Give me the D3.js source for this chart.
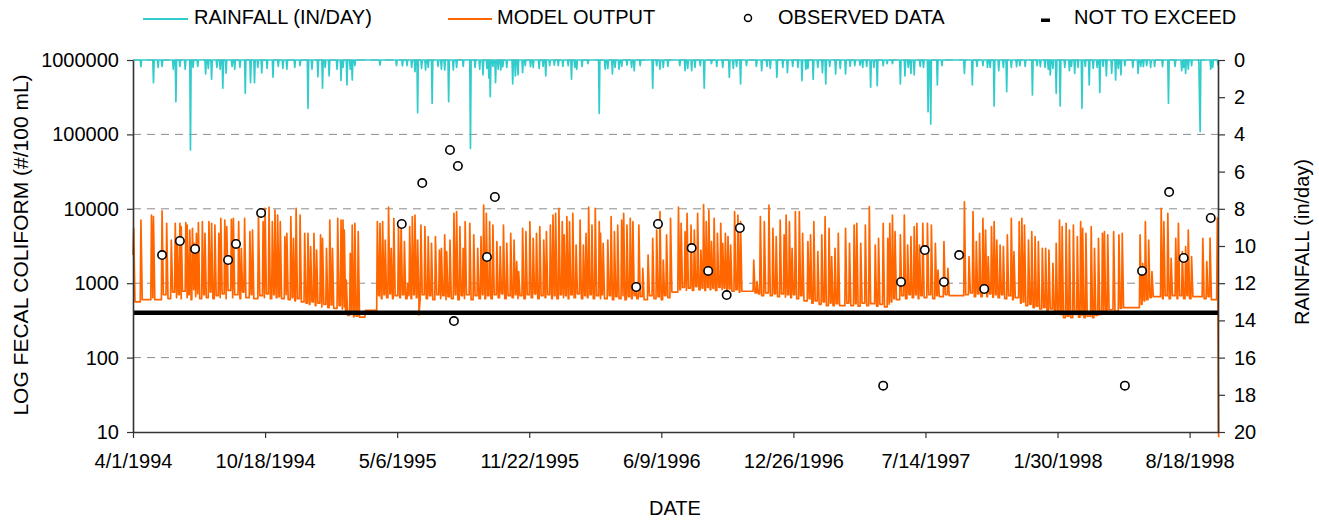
<!DOCTYPE html>
<html>
<head>
<meta charset="utf-8">
<script src="https://cdn.jsdelivr.net/npm/d3@7"></script>
<style>
  body { margin: 0; background: #fff; }
  text { font-family: "Liberation Sans", Arial, sans-serif; fill: #000; }
</style>
</head>
<body>
<svg id="chart" width="1319" height="522"></svg>
<script>
// ---------------- DATA ----------------
const startDate = "1994-04-01";
const endDate = "1998-09-30";
const xTickDays = [0, 200, 400, 600, 800, 1000, 1200, 1400, 1600]; // days since 4/1/1994
const leftTicks = [10, 100, 1000, 10000, 100000, 1000000];
const rightTicks = [0, 2, 4, 6, 8, 10, 12, 14, 16, 18, 20];
const legendLabels = ["RAINFALL (IN/DAY)", "MODEL OUTPUT", "OBSERVED DATA", "NOT TO EXCEED"];
const notToExceed = 400;

// Model output (#/100 mL): start value then spikes [day, peak value, value the curve falls back to]
const modelStartValue = 2400;
const modelSpikes = [
  [1,5500,560],[12,7070,600],[28,8260,640],[31,7840,600],[44,9400,700],[51,6380,620],[58,3810,760],
  [64,6380,640],[67,3620,700],[71,6380,620],[73,5750,780],[80,6500,640],[82,6060,700],[86,5190,600],
  [90,5470,820],[93,3440,660],[96,4680,720],[99,6500,620],[105,6720,700],[109,4680,640],[115,6720,760],
  [119,6380,620],[124,6060,680],[130,4680,640],[133,7450,720],[139,7070,620],[142,5750,800],[149,7200,640],
  [152,7450,700],[160,6720,620],[164,2940,760],[169,7450,640],[177,4930,700],[181,5190,620],[190,8700,680],
  [197,6720,640],[200,10150,720],[206,10500,620],[211,6720,700],[215,9630,640],[219,8260,660],[223,6720,620],
  [230,4220,700],[233,4680,600],[239,7840,640],[243,4010,580],[247,10150,620],[253,8260,560],[260,4680,540],
  [265,4680,520],[269,3100,560],[274,4680,500],[278,2790,540],[284,4450,480],[287,4010,520],[293,2940,470],
  [298,7070,510],[302,2940,460],[310,7450,500],[315,7070,450],[318,7070,480],[320,5190,400],[323,1100,370],
  [329,2520,380],[332,6060,355],[336,6380,360],[341,4930,350],[352,430,430],
  [370,6720,680],[374,6380,620],[378,6720,700],[382,3810,640],[387,10500,720],[391,2940,620],[395,7450,680],
  [402,5750,640],[406,6720,700],[411,3620,620],[416,996,680],[419,5750,620],[423,7840,700],[427,8260,640],
  [431,3810,650],[433,374,640],[436,6060,700],[442,5750,620],[447,4220,680],[452,3440,600],[458,4220,700],
  [464,2790,620],[467,2940,680],[472,4450,600],[475,2650,660],[480,3810,620],[486,8700,700],[490,9160,600],
  [495,5750,680],[500,2940,620],[503,6720,700],[510,6380,600],[516,4450,680],[522,2940,620],[527,4220,700],
  [531,11200,620],[535,8700,680],[540,6720,620],[545,6060,700],[551,3620,640],[556,3100,720],[561,6060,620],
  [566,3440,680],[572,4680,640],[577,3810,700],[581,1950,620],[584,1430,680],[590,5470,620],[595,4930,700],
  [601,6720,640],[606,4010,720],[611,4680,620],[616,5750,680],[622,3810,640],[626,4930,700],[632,6060,620],
  [636,8260,680],[640,8700,620],[645,10150,700],[650,6720,640],[653,4450,680],[657,7840,620],[661,6720,700],
  [666,8700,640],[671,3260,720],[677,7070,620],[682,3260,680],[686,4680,640],[690,10500,700],[695,6060,620],
  [700,10150,680],[706,6720,620],[708,4680,700],[712,3440,620],[719,3810,680],[724,7840,600],[729,4930,660],
  [734,6060,620],[740,7070,680],[743,8700,600],[748,6060,660],[753,7450,620],[757,6720,680],[761,899,620],
  [766,6060,660],[772,1580,600],[780,2390,680],[787,4010,620],[793,5190,660],[798,9160,600],[803,2050,680],
  [808,4450,640],[814,7450,760],
  [826,10500,820],[830,6380,880],[836,4930,800],[839,8700,860],[845,6060,800],[850,5190,900],[855,8700,820],
  [860,2790,860],[864,11400,800],[868,6720,880],[872,9630,820],[876,3620,860],[880,7450,800],[885,4680,880],
  [890,6380,820],[893,3440,860],[897,4680,800],[901,4220,840],[905,3260,780],[911,9160,820],[916,8260,760],
  [920,6720,780],[940,2050,740],[945,1050,720],
  [950,7840,680],[956,6720,740],[963,11200,680],[969,5470,720],[974,4220,660],[980,7070,720],[986,4450,650],
  [989,8260,700],[994,6720,640],[998,2940,700],[1003,9160,620],[1009,9160,680],[1014,4680,580],[1022,3620,620],
  [1026,4450,540],[1031,6720,580],[1037,2650,520],[1043,4450,560],
  [1048,7840,500],[1054,5470,540],[1058,2270,500],[1063,2940,530],[1068,4680,500],[1079,5470,540],[1085,3440,500],
  [1092,6060,530],[1096,6380,490],[1102,3440,540],[1109,6060,500],[1115,10700,530],[1124,3260,490],[1129,4010,520],
  [1136,6380,480],[1143,4010,520],[1146,6380,560],[1150,8260,620],[1154,4930,600],
  [1162,4450,680],[1168,8260,620],[1173,3260,700],[1178,4220,640],[1183,5750,700],[1187,6380,620],[1191,3260,680],
  [1196,6380,640],[1203,6380,700],[1209,6060,620],[1215,3440,680],[1219,1500,660],[1228,3620,700],[1234,1580,680],
  [1259,12400,700],[1266,2270,740],[1272,9160,660],[1277,3620,720],[1282,4680,660],[1287,7450,740],[1291,5190,660],
  [1295,2270,720],[1300,5750,650],[1304,6720,700],[1308,3810,640],[1313,3260,700],[1318,3100,620],[1324,4450,680],
  [1330,7450,600],[1334,2650,640],[1342,6720,540],[1346,7450,560],[1350,6060,500],[1356,3810,520],[1361,4930,470],
  [1366,4220,490],[1371,3620,450],[1377,2940,470],[1382,2940,430],[1387,2790,450],[1393,1850,410],[1398,3440,420],
  [1403,7070,380],[1407,5750,345],[1413,6380,360],[1418,5190,345],[1424,6060,380],[1430,4220,350],[1435,6720,370],
  [1438,5470,345],[1443,4680,360],[1451,5750,345],[1456,2940,370],[1462,4010,380],[1468,4680,420],[1471,4930,400],
  [1476,4450,440],[1485,4930,420],[1493,4450,460],[1498,4680,470],
  [1525,4450,520],[1529,1850,580],[1533,6720,600],[1538,3810,640],[1543,1430,660],[1557,10150,620],[1561,6720,680],
  [1567,8700,620],[1572,2150,680],[1579,4010,620],[1583,6380,680],[1589,2650,620],[1594,3100,680],[1598,5190,620],
  [1603,2270,660],[1620,4010,620],[1626,1950,660],[1631,4050,600],[1642,7500,8.5]
];

// Rainfall (in/day): days since 4/1/1994 with rain, and depth
const rainDays = [
  12,31,38,44,61,65,71,79,87,91,98,110,114,119,127,132,136,141,150,154,162,170,178,184,189,195,203,212,220,227,
  233,245,253,265,271,280,287,291,297,309,315,318,324,329,332,336,374,399,408,415,422,427,431,437,443,447,453,
  462,467,472,478,485,490,500,511,518,525,530,536,539,541,545,549,553,557,560,566,575,579,583,590,594,602,606,
  615,621,625,631,638,644,651,659,664,669,672,680,689,706,715,719,726,730,736,740,748,755,759,768,787,793,798,
  803,810,828,836,840,846,851,859,865,876,884,893,903,909,914,920,929,944,952,960,965,975,984,991,999,1007,1013,
  1019,1022,1030,1037,1044,1049,1055,1064,1071,1079,1086,1093,1101,1105,1111,1117,1122,1127,1136,1142,1150,1162,
  1169,1174,1178,1183,1192,1197,1204,1208,1218,1225,1259,1271,1278,1287,1294,1298,1304,1311,1318,1323,1330,1338,
  1343,1351,1362,1369,1374,1381,1386,1389,1393,1398,1404,1411,1418,1421,1426,1431,1437,1442,1448,1454,1460,1464,
  1469,1474,1482,1488,1492,1496,1502,1514,1522,1526,1530,1535,1541,1547,1559,1568,1578,1588,1591,1594,1598,1603,
  1615,1616,1632,1635,1643
];
const rainInches = [
  0.36,1.22,0.4,0.35,0.5,2.24,0.35,0.5,4.84,0.4,0.35,0.75,0.45,1.04,0.4,0.5,1.52,0.71,0.35,0.5,0.4,1.79,1.22,1.22,0.4,0.7,0.45,0.92,0.35,0.45,
  0.5,0.4,0.3,2.6,0.5,0.9,1.52,0.4,0.86,0.5,1.1,0.4,1.34,0.5,1.08,0.3,0.27,0.3,0.32,0.3,0.4,0.63,2.83,0.45,0.54,0.4,2.33,
  0.35,0.5,0.54,2.24,0.54,0.4,0.35,4.75,0.4,0.5,0.8,0.45,0.98,1.97,0.35,1.22,0.5,0.54,0.36,0.4,1.29,0.86,0.8,0.68,0.3,0.36,0.4,
  0.45,0.35,0.86,0.3,0.27,0.3,0.35,0.3,1.04,0.4,0.5,0.35,0.2,2.87,0.5,0.45,0.75,0.4,0.5,0.35,0.27,0.4,0.57,0.3,1.52,0.3,0.5,
  0.4,0.35,0.3,0.57,0.45,0.57,0.4,0.3,1.52,0.2,0.35,0.4,0.93,0.45,0.35,1.29,0.3,0.35,0.57,0.35,0.45,0.93,0.4,0.68,0.35,0.4,1.11,
  0.5,0.45,1.04,0.4,0.68,1.29,0.35,0.75,0.45,0.75,0.35,0.3,0.27,0.4,0.35,1.47,0.4,1.38,0.3,0.2,0.2,1.29,
  0.86,0.4,0.72,0.8,0.35,0.4,2.78,3.44,1.34,0.3,0.72,1.34,0.35,0.3,0.4,0.4,2.47,0.57,0.4,1.7,0.4,0.36,
  0.3,0.35,1.88,0.3,0.36,0.4,0.5,0.8,0.45,1.79,2.47,0.4,0.57,0.35,0.72,0.4,2.6,0.35,1.34,0.45,0.4,1.75,
  0.35,0.86,0.72,1.08,0.45,0.8,0.3,0.4,0.72,0.35,0.36,0.3,0.4,0.35,0.36,2.33,0.35,0.57,0.4,0.72,0.5,0.3,
  2.11,3.85,0.5,0.4,0.27
];

// Observed data (#/100 mL)
const obsDates = [
  "1994-05-15","1994-06-11","1994-07-04","1994-08-23","1994-09-04","1994-10-12",
  "1995-05-13","1995-06-13","1995-07-25","1995-07-31","1995-08-06","1995-09-19","1995-10-01",
  "1996-05-02","1996-06-04","1996-07-25","1996-08-19","1996-09-16","1996-10-06",
  "1997-05-11","1997-06-07","1997-07-13","1997-08-11","1997-09-03","1997-10-11",
  "1998-05-12","1998-06-07","1998-07-18","1998-08-09","1998-09-19"
];
const obsValues = [
  2390,3690,2880,2050,3370,8790,
  6250,22200,61700,310,37600,2250,14400,
  889,6250,2970,1460,693,5520,
  42,1040,2790,1040,2390,836,
  42,1460,16800,2180,7520
];

// ---------------- CHART ----------------
const L = 133, R = 1218, T = 60, B = 432;
const FS = 20;
const ORANGE = "#FF6600", CYAN = "#33CCCC";

const svg = d3.select("#chart");
const parse = d3.utcParse("%Y-%m-%d");
const t0 = parse(startDate);
const dayToDate = d => d3.utcDay.offset(t0, d);

const x = d3.scaleUtc().domain([t0, parse(endDate)]).range([L, R]);
const y = d3.scaleLog().domain([10, 1000000]).range([B, T]);
const yR = d3.scaleLinear().domain([0, 20]).range([T, B]);

// gridlines
svg.append("g").selectAll("line")
  .data(leftTicks.filter(v => v > 10))
  .join("line")
  .attr("x1", L).attr("x2", R)
  .attr("y1", d => y(d)).attr("y2", d => y(d))
  .attr("stroke", "#8c8c8c").attr("stroke-width", 1)
  .attr("stroke-dasharray", "8,6");

// model output vertices built from the spike table
const modelPoints = [[0, modelStartValue]];
let prevBase = modelStartValue;
modelSpikes.forEach(([d, peak, base]) => {
  const last = modelPoints[modelPoints.length - 1][0];
  if (d - 1 > last) modelPoints.push([d - 1, prevBase]);
  const dd = Math.max(d, last);
  modelPoints.push([dd, peak]);
  modelPoints.push([dd + 2, base]);
  prevBase = base;
});

svg.append("path")
  .datum(modelPoints)
  .attr("fill", "none")
  .attr("stroke", ORANGE)
  .attr("stroke-width", 1.7)
  .attr("stroke-linejoin", "round")
  .attr("d", d3.line().x(p => x(dayToDate(p[0]))).y(p => y(p[1])));

// not to exceed
svg.append("line")
  .attr("x1", L).attr("x2", R)
  .attr("y1", y(notToExceed)).attr("y2", y(notToExceed))
  .attr("stroke", "#000").attr("stroke-width", 4.5);

// rainfall (daily, zero on days without rain)
const rainMap = new Map(rainDays.map((d, i) => [d, rainInches[i]]));
const rainSeries = d3.range(0, 1644).map(d => [d, rainMap.get(d) || 0]);
svg.append("path")
  .datum(rainSeries)
  .attr("fill", "none")
  .attr("stroke", CYAN)
  .attr("stroke-width", 1.7)
  .attr("stroke-linejoin", "round")
  .attr("d", d3.line().x(p => x(dayToDate(p[0]))).y(p => yR(p[1])));

// observed data
svg.append("g").selectAll("circle")
  .data(obsDates.map((d, i) => [parse(d), obsValues[i]]))
  .join("circle")
  .attr("cx", d => x(d[0])).attr("cy", d => y(d[1]))
  .attr("r", 4.2)
  .attr("fill", "#fff").attr("stroke", "#000").attr("stroke-width", 1.6);

// axes
function styleAxis(g) {
  g.selectAll("path.domain").attr("stroke", "#333").attr("stroke-width", 1.6);
  g.selectAll(".tick line").attr("stroke", "#333").attr("stroke-width", 1.2);
  g.selectAll("text").attr("font-size", FS).attr("font-family", '"Liberation Sans", Arial, sans-serif').attr("fill", "#000");
}

svg.append("g")
  .attr("transform", `translate(${L},0)`)
  .call(d3.axisLeft(y).tickValues(leftTicks).tickFormat(d3.format("d")).tickSize(6).tickSizeOuter(0).tickPadding(8))
  .call(styleAxis);

svg.append("g")
  .attr("transform", `translate(${R},0)`)
  .call(d3.axisRight(yR).tickValues(rightTicks).tickFormat(d3.format("d")).tickSize(7).tickSizeOuter(0).tickPadding(9))
  .call(styleAxis);

svg.append("g")
  .attr("transform", `translate(0,${B})`)
  .call(d3.axisBottom(x).tickValues(xTickDays.map(dayToDate)).tickFormat(d3.utcFormat("%-m/%-d/%Y"))
        .tickSize(6).tickSizeOuter(0).tickPadding(16))
  .call(styleAxis);

// axis titles
svg.append("text")
  .attr("transform", `translate(28,245) rotate(-90)`)
  .attr("text-anchor", "middle").attr("font-size", 21)
  .text("LOG FECAL COLIFORM (#/100 mL)");
svg.append("text")
  .attr("transform", `translate(1309,242) rotate(-90)`)
  .attr("text-anchor", "middle").attr("font-size", FS)
  .text("RAINFALL (in/day)");
svg.append("text")
  .attr("x", 675).attr("y", 515)
  .attr("text-anchor", "middle").attr("font-size", FS)
  .text("DATE");

// legend
const lg = svg.append("g");
lg.append("line").attr("x1", 143).attr("x2", 188).attr("y1", 19).attr("y2", 19)
  .attr("stroke", CYAN).attr("stroke-width", 2);
lg.append("text").attr("x", 194).attr("y", 24).attr("font-size", FS).text(legendLabels[0]);
lg.append("line").attr("x1", 448).attr("x2", 492).attr("y1", 19).attr("y2", 19)
  .attr("stroke", ORANGE).attr("stroke-width", 2);
lg.append("text").attr("x", 497).attr("y", 24).attr("font-size", FS).text(legendLabels[1]);
lg.append("circle").attr("cx", 748).attr("cy", 18).attr("r", 3.5)
  .attr("fill", "#fff").attr("stroke", "#000").attr("stroke-width", 1.5);
lg.append("text").attr("x", 778).attr("y", 24).attr("font-size", FS).text(legendLabels[2]);
lg.append("rect").attr("x", 1041).attr("y", 18.5).attr("width", 9).attr("height", 3.5).attr("fill", "#000");
lg.append("text").attr("x", 1074).attr("y", 24).attr("font-size", FS).text(legendLabels[3]);
</script>
</body>
</html>
